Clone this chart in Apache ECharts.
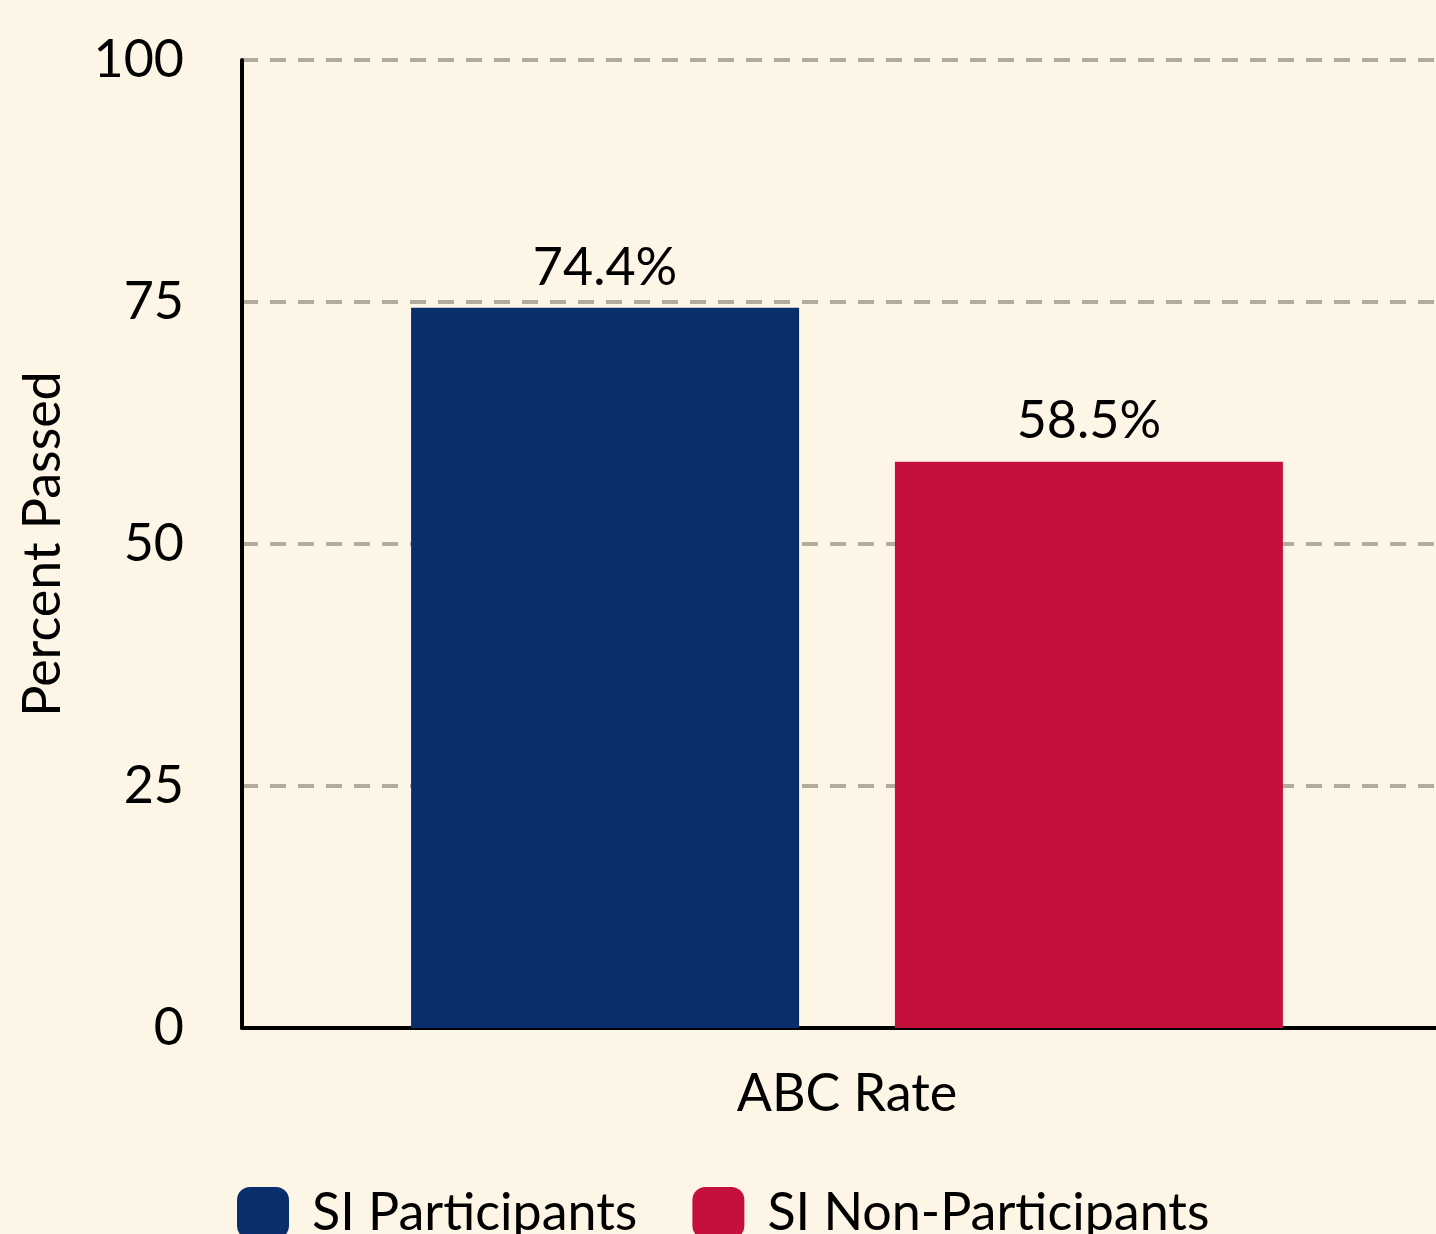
<!DOCTYPE html>
<html>
<head>
<meta charset="utf-8">
<script src="https://cdn.jsdelivr.net/npm/echarts@6/dist/echarts.min.js"></script>
<style>
html,body{margin:0;padding:0;background:#FDF5E6;}
#chart{width:1436px;height:1234px;}
</style>
</head>
<body>
<div id="chart"></div>
<script>
const categories = ['ABC Rate'];
const seriesNames = ['SI Participants', 'SI Non-Participants'];
const participants = [74.4];
const nonParticipants = [58.5];
const yTicks = [0, 25, 50, 75, 100];

const FONT = 'Lato';
const FS = 52;
const chart = echarts.init(document.getElementById('chart'), null, {renderer: 'canvas'});
chart.setOption({
  backgroundColor: '#FDF5E6',
  animation: false,
  textStyle: {fontFamily: FONT},
  grid: {left: 242, top: 60, width: 1210, bottom: 206, containLabel: false, outerBoundsMode: 'none'},
  legend: {
    left: 232, top: 1182,
    itemWidth: 52, itemHeight: 52, itemGap: 55,
    icon: 'roundRect',
    textStyle: {fontFamily: FONT, fontSize: FS, color: '#000', padding: [0, 0, 0, 18]},
    data: seriesNames
  },
  xAxis: {
    type: 'category',
    data: categories,
    axisLine: {show: true, lineStyle: {color: '#000', width: 4}},
    axisTick: {show: false},
    axisLabel: {fontFamily: FONT, fontSize: FS, color: '#000', margin: 40}
  },
  yAxis: {
    type: 'value',
    min: yTicks[0], max: yTicks[yTicks.length - 1], interval: 25,
    name: 'Percent Passed',
    nameLocation: 'middle',
    nameGap: 173,
    nameTextStyle: {fontFamily: FONT, fontSize: FS, color: '#000'},
    axisLine: {show: true, lineStyle: {color: '#000', width: 4}},
    axisTick: {show: false},
    axisLabel: {fontFamily: FONT, fontSize: FS, color: '#000', margin: 58},
    splitLine: {show: true, lineStyle: {color: '#B3AB9C', width: 4, type: [16, 12]}}
  },
  series: [
    {
      name: seriesNames[0], type: 'bar', data: participants,
      itemStyle: {color: '#0A2D6B'},
      barWidth: 388, barGap: '24.7%',
      label: {show: true, position: 'top', distance: 14, fontFamily: FONT, fontSize: FS, color: '#000',
        formatter: p => p.value.toFixed(1) + '%'}
    },
    {
      name: seriesNames[1], type: 'bar', data: nonParticipants,
      itemStyle: {color: '#C5103B'},
      barWidth: 388,
      label: {show: true, position: 'top', distance: 14, fontFamily: FONT, fontSize: FS, color: '#000',
        formatter: p => p.value.toFixed(1) + '%'}
    }
  ]
});
</script>
</body>
</html>
